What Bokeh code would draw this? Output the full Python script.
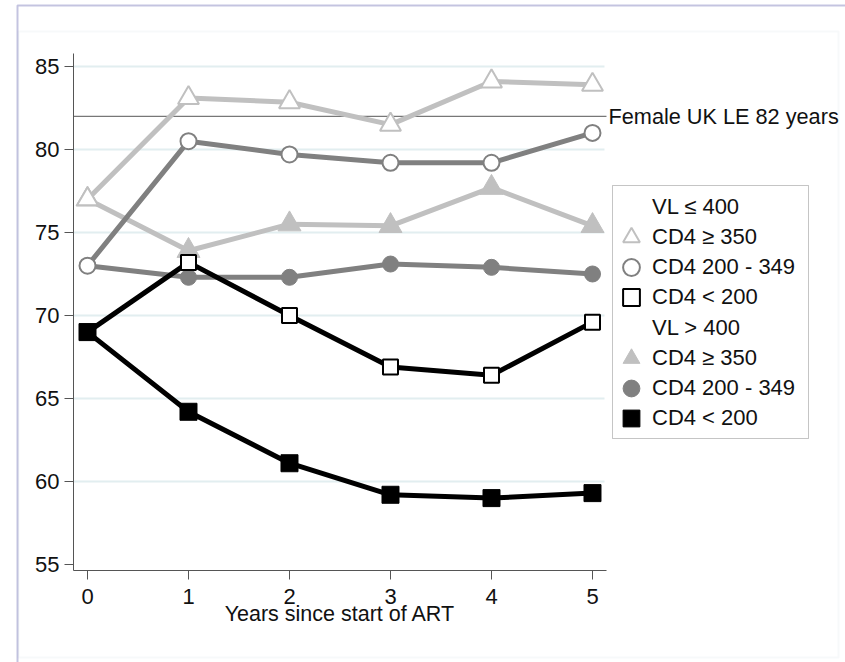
from bokeh.plotting import figure
from bokeh.models import (Range1d, FixedTicker, Legend, LegendItem, Label, BoxAnnotation, Grid)
from bokeh.embed import file_html
from bokeh.resources import INLINE

# ---- data ----
years = [0, 1, 2, 3, 4, 5]
vl_low_cd4_350 = [77.0, 83.1, 82.85, 81.5, 84.1, 83.9]
vl_low_cd4_200_349 = [73.0, 80.5, 79.7, 79.2, 79.2, 81.0]
vl_low_cd4_lt200 = [69.0, 73.2, 70.0, 66.9, 66.4, 69.6]
vl_high_cd4_350 = [77.0, 73.9, 75.5, 75.4, 77.7, 75.4]
vl_high_cd4_200_349 = [73.0, 72.3, 72.3, 73.1, 72.9, 72.5]
vl_high_cd4_lt200 = [69.0, 64.2, 61.1, 59.2, 59.0, 59.3]
female_le = 82
female_le_label = "Female UK LE 82 years"
y_ticks = [55, 60, 65, 70, 75, 80, 85]
x_ticks = [0, 1, 2, 3, 4, 5]
legend_labels = ["VL \u2264 400", "CD4 \u2265 350", "CD4 200 - 349", "CD4 < 200",
                 "VL > 400", "CD4 \u2265 350", "CD4 200 - 349", "CD4 < 200"]

# axis extents (data units)
x_lo, x_hi = -0.1386, 5.1386
y_lo, y_hi = 54.64, 85.78

FONT = "Liberation Sans"
LIGHT = "#c0c0c0"
MID = "#808080"
DARK = "#000000"

W, H = 845, 662
p = figure(width=W, height=H, output_backend="svg", toolbar_location=None,
           x_range=Range1d(-0.8614, 7.505), y_range=Range1d(49.096, 88.976),
           min_border=0)
p.outline_line_color = None
p.background_fill_color = "white"
p.border_fill_color = "white"

def sbox(left, right, top, bottom, **kw):
    return BoxAnnotation(left=left, right=right, top=H - top, bottom=H - bottom,
                         left_units="screen", right_units="screen", top_units="screen",
                         bottom_units="screen", **kw)

# outer page decorations (screen units)
p.add_layout(sbox(18, 838, 31, 657, fill_color=None, line_color="#e4ecee", line_width=2, level="underlay"))
p.add_layout(sbox(17, W + 10, 5, H + 10, fill_color=None, fill_alpha=0, line_color="#3a3a98",
                  line_width=2, level="overlay"))

# axes placed inside the frame
xa = p.xaxis[0]
ya = p.yaxis[0]
xa.fixed_location = y_lo
ya.fixed_location = x_lo
xa.bounds = (x_lo, x_hi)
ya.bounds = (y_lo, y_hi)
xa.ticker = FixedTicker(ticks=x_ticks)
ya.ticker = FixedTicker(ticks=y_ticks)
for ax in (xa, ya):
    ax.axis_line_color = "#555555"
    ax.major_tick_line_color = "#555555"
    ax.minor_tick_line_color = None
    ax.major_tick_in = 0
    ax.major_tick_out = 9
    ax.major_label_text_font = FONT
    ax.major_label_text_font_size = "22px"
    ax.major_label_text_color = "#111111"
ya.major_label_standoff = 5
xa.major_label_standoff = 10
xa.axis_label = "Years since start of ART"
xa.axis_label_text_font = FONT
xa.axis_label_text_font_size = "21.5px"
xa.axis_label_text_font_style = "normal"
xa.axis_label_text_color = "#111111"
xa.axis_label_standoff = -6

p.xgrid.visible = False
p.ygrid.visible = False
if "cross_bounds" in Grid.properties():
    g = Grid(dimension=1, ticker=FixedTicker(ticks=y_ticks[1:]), cross_bounds=(x_lo, x_hi - 0.02),
             grid_line_color="#e2eef0", grid_line_width=2)
    p.add_layout(g)
else:
    gt = y_ticks[1:]
    p.segment(x0=[x_lo] * len(gt), x1=[x_hi] * len(gt), y0=gt, y1=gt,
              line_color="#e2eef0", line_width=2)

# reference line
p.segment(x0=[x_lo], x1=[x_hi], y0=[female_le], y1=[female_le], line_color="#555555", line_width=1)
p.add_layout(Label(x=608, y=female_le, x_units="screen", text=female_le_label,
                   text_font=FONT, text_font_size="21.7px", text_baseline="middle", text_color="#111111"))

# series
series = [
    (vl_high_cd4_200_349, MID, "circle", True, 16),
    (vl_high_cd4_350, LIGHT, "triangle", True, 23),
    (vl_low_cd4_200_349, MID, "circle", False, 16),
    (vl_low_cd4_350, LIGHT, "triangle", False, 21),
    (vl_low_cd4_lt200, DARK, "square", False, 15),
    (vl_high_cd4_lt200, DARK, "square", True, 17),
]
marks = {}
for ys, col, mk, filled, sz in series:
    p.line(years, ys, line_color=col, line_width=5)
for ys, col, mk, filled, sz in series:
    r = p.scatter(years, ys, marker=mk, size=sz, line_color=col, line_width=2 if not filled else 1,
                  fill_color=col if filled else "white")
    marks[(mk, filled)] = r

blank = p.scatter([], [], marker="circle", size=1, alpha=0)

# legend: framed white box with one row per entry
p.add_layout(sbox(612, 808, 185, 438, fill_color="white", fill_alpha=1, line_color="#404040",
                  line_width=1, level="annotation"))
order = [blank, marks[("triangle", False)], marks[("circle", False)], marks[("square", False)],
         blank, marks[("triangle", True)], marks[("circle", True)], marks[("square", True)]]
GB = 42
row0, row_step = 207, 30.15
for i, (lab, r) in enumerate(zip(legend_labels, order)):
    center = row0 + row_step * i
    lg = Legend(items=[LegendItem(label=lab, renderers=[r])],
                location=(610, H - (center + GB / 2)),
                label_text_font=FONT, label_text_font_size="22px", label_text_color="#111111",
                glyph_width=GB, glyph_height=GB, label_height=GB, label_standoff=0,
                spacing=0, padding=0, margin=0, border_line_color=None,
                background_fill_alpha=0)
    p.add_layout(lg, "center")

open("out.html", "w").write(file_html(p, INLINE))
